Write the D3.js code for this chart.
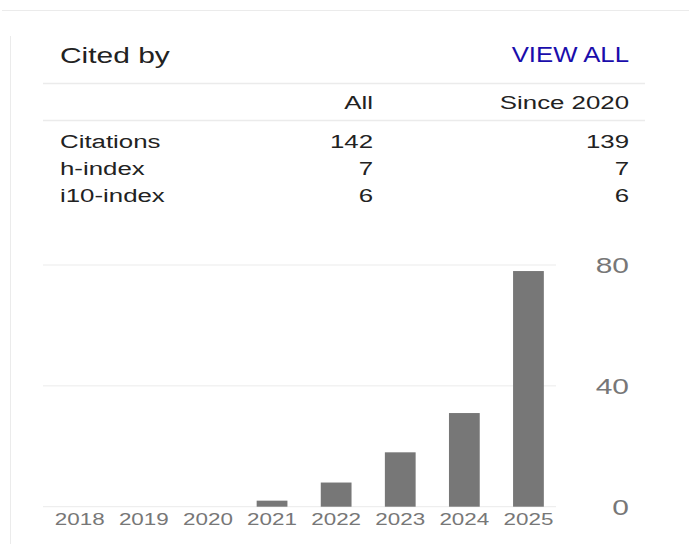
<!DOCTYPE html>
<html>
<head>
<meta charset="utf-8">
<script src="https://cdn.jsdelivr.net/npm/d3@7"></script>
<style>
  html, body { margin: 0; padding: 0; background: #fff; }
  svg { display: block; font-family: "Liberation Sans", Arial, sans-serif; }
</style>
</head>
<body>
<svg id="cited" width="689" height="544"></svg>
<script>
// citation counts per year
const YEARS = ['2018', '2019', '2020', '2021', '2022', '2023', '2024', '2025']
const CITES = [0, 0, 0, 2, 8, 18, 31, 78]
const Y_TICKS = [0, 40, 80]

// summary table
const COLUMNS = ['All', 'Since 2020']
const METRICS = ['Citations', 'h-index', 'i10-index']
const ALL = [142, 7, 6]
const SINCE = [139, 7, 6]

const SX = 1.36 // screenshot is stretched horizontally
const TEXT = '#222'
const GREY = '#777'
const RULE = '#ebebeb'

const svg = d3.select('#cited')

// draw text stretched around its anchor point
const label = (sel, x, y, sx = SX) => sel.attr('transform', (d, i) => `translate(${x(d, i)},${y(d, i)}) scale(${sx},1)`)

// frame
svg.append('line').attr('x1', 2).attr('x2', 689).attr('y1', 10.5).attr('y2', 10.5)
  .attr('stroke', RULE)
svg.append('line').attr('x1', 10.5).attr('x2', 10.5).attr('y1', 36).attr('y2', 544)
  .attr('stroke', RULE)

// header
svg.append('text').text('Cited by')
  .call(label, () => 60, () => 63)
  .attr('font-size', 22).attr('fill', TEXT)
svg.append('text').text('VIEW ALL')
  .call(label, () => 629, () => 62, 1.17)
  .attr('text-anchor', 'end').attr('font-size', 22).attr('fill', '#1a0dab')

svg.selectAll('.rule').data([83.5, 120.5]).join('line')
  .attr('class', 'rule')
  .attr('x1', 43).attr('x2', 645)
  .attr('y1', d => d).attr('y2', d => d)
  .attr('stroke', RULE).attr('stroke-width', 1.5)

// table
const colX = [373, 629]
const rowY = d3.scalePoint().domain(METRICS).range([148, 202])

svg.selectAll('.col').data(COLUMNS).join('text')
  .attr('class', 'col')
  .text(d => d)
  .call(label, (d, i) => colX[i], () => 109)
  .attr('text-anchor', 'end').attr('font-size', 19).attr('fill', TEXT)

svg.selectAll('.metric').data(METRICS).join('text')
  .attr('class', 'metric')
  .text(d => d)
  .call(label, () => 60, d => rowY(d))
  .attr('font-size', 19).attr('fill', TEXT)

;[ALL, SINCE].forEach((vals, c) => {
  svg.selectAll(`.v${c}`).data(vals).join('text')
    .attr('class', `v${c}`)
    .text(d => d)
    .call(label, () => colX[c], (d, i) => rowY(METRICS[i]))
    .attr('text-anchor', 'end').attr('font-size', 19).attr('fill', TEXT)
})

// chart
const x = d3.scaleBand().domain(YEARS).range([47.7, 560.5])
  .paddingInner(0.52).paddingOuter(0.26)
const y = d3.scaleLinear().domain([0, 80]).range([506.7, 265])

svg.selectAll('.grid').data(Y_TICKS).join('line')
  .attr('class', 'grid')
  .attr('x1', 43).attr('x2', 556)
  .attr('y1', d => y(d)).attr('y2', d => y(d))
  .attr('stroke', RULE)

svg.selectAll('.bar').data(CITES).join('rect')
  .attr('class', 'bar')
  .attr('x', (d, i) => x(YEARS[i]))
  .attr('width', x.bandwidth())
  .attr('y', d => y(d))
  .attr('height', d => y(0) - y(d))
  .attr('fill', GREY)

svg.selectAll('.ytick').data(Y_TICKS).join('text')
  .attr('class', 'ytick')
  .text(d => d)
  .call(label, () => 629, d => y(d) + 8)
  .attr('text-anchor', 'end').attr('font-size', 22).attr('fill', GREY)

svg.selectAll('.year').data(YEARS).join('text')
  .attr('class', 'year')
  .text(d => d)
  .call(label, d => x(d) + x.bandwidth() / 2, () => 525)
  .attr('text-anchor', 'middle').attr('font-size', 16.5).attr('fill', GREY)
</script>
</body>
</html>
